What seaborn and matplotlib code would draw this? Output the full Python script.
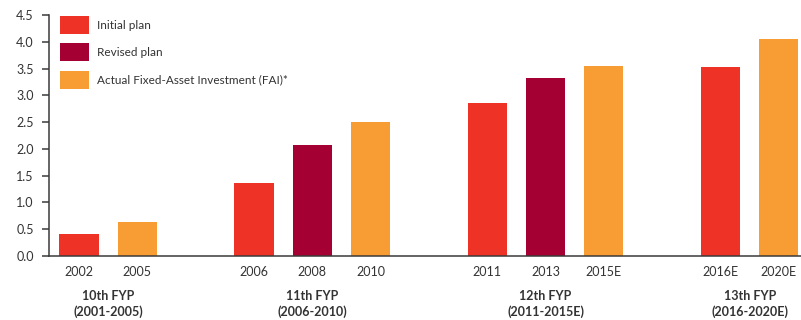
import matplotlib
matplotlib.use("Agg")
import matplotlib.pyplot as plt
import matplotlib.transforms as mtransforms
import pandas as pd
import seaborn as sns

# Investment figures per year (trillion yuan) and the plan stage each belongs to
years = ["2002", "2005", "2006", "2008", "2010", "2011", "2013", "2015E", "2016E", "2020E"]
values = [0.42, 0.64, 1.37, 2.08, 2.50, 2.85, 3.33, 3.55, 3.53, 4.05]
stages = ["Initial plan", "Actual Fixed-Asset Investment (FAI)*",
          "Initial plan", "Revised plan", "Actual Fixed-Asset Investment (FAI)*",
          "Initial plan", "Revised plan", "Actual Fixed-Asset Investment (FAI)*",
          "Initial plan", "Actual Fixed-Asset Investment (FAI)*"]

# Category order, with blank slots separating the five-year plans
x_order = ["2002", "2005", " ", "2006", "2008", "2010", "  ",
           "2011", "2013", "2015E", "   ", "2016E", "2020E"]

stage_order = ["Initial plan", "Revised plan", "Actual Fixed-Asset Investment (FAI)*"]
stage_colors = ["#EE3326", "#A50034", "#F89D33"]

plan_names = ["10th FYP\n(2001-2005)", "11th FYP\n(2006-2010)",
              "12th FYP\n(2011-2015E)", "13th FYP\n(2016-2020E)"]
plan_members = [["2002", "2005"], ["2006", "2008", "2010"],
                ["2011", "2013", "2015E"], ["2016E", "2020E"]]

y_ticks = [0.0, 0.5, 1.0, 1.5, 2.0, 2.5, 3.0, 3.5, 4.0, 4.5]

sns.set_style("white")
plt.rcParams["font.family"] = ["Lato", "DejaVu Sans"]
text_color = "#333333"
axis_color = "#3a3a3a"

df = pd.DataFrame({"year": years, "value": values, "stage": stages})

fig = plt.figure(figsize=(8.01, 3.20), dpi=100)
ax = fig.add_axes([49 / 801, 64 / 320, 752 / 801, 241 / 320])

sns.barplot(data=df, x="year", y="value", hue="stage", order=x_order,
            hue_order=stage_order, palette=stage_colors, dodge=False,
            width=0.67, linewidth=0, saturation=1, ax=ax)

ax.set_xlim(-0.515, 12.38)
ax.set_ylim(0, 4.5)
ax.set_yticks(y_ticks)
ax.set_yticklabels([f"{t:.1f}" for t in y_ticks])
ax.set_xlabel("")
ax.set_ylabel("")

for side in ("top", "right"):
    ax.spines[side].set_visible(False)
for side in ("left", "bottom"):
    ax.spines[side].set_color(axis_color)
    ax.spines[side].set_linewidth(1.1)

ax.tick_params(axis="y", left=True, length=5, width=1.1, color=axis_color,
               labelsize=9, labelcolor=text_color, pad=6)
ax.tick_params(axis="x", bottom=False, length=0, labelsize=9,
               labelcolor=text_color, pad=7)

# Five-year plan captions under each group of bars
trans = mtransforms.blended_transform_factory(ax.transData, ax.transAxes)
for name, members in zip(plan_names, plan_members):
    idx = [x_order.index(m) for m in members]
    center = sum(idx) / len(idx)
    ax.text(center, -0.14, name, transform=trans, ha="center", va="top",
            fontsize=9, fontweight="bold", color=text_color, linespacing=1.35)

handles, labels = ax.get_legend_handles_labels()
ax.legend(handles, labels, loc="upper left", bbox_to_anchor=(0.0146, 0.996),
          frameon=False, borderaxespad=0, borderpad=0, fontsize=8.5,
          handlelength=2.45, handleheight=1.97, handletextpad=0.7,
          labelspacing=0.8, labelcolor=text_color)

fig.savefig("out.png", dpi=100)
